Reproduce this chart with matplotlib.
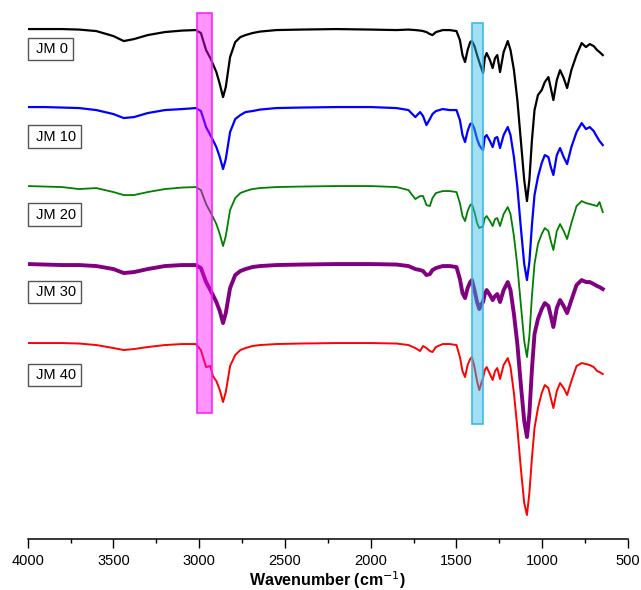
import matplotlib
matplotlib.use("Agg")
import matplotlib.pyplot as plt
from matplotlib.patches import Rectangle
from matplotlib.ticker import MultipleLocator
import numpy as np

plt.rcParams['font.family'] = ['Liberation Sans', 'DejaVu Sans']

# wavenumbers (cm-1), shared by all spectra
wn = [4000, 3900, 3800, 3700, 3600, 3500, 3440, 3380, 3300, 3200,
      3100, 3020, 2990, 2960, 2935, 2920, 2900, 2880, 2861, 2845,
      2820, 2790, 2760, 2730, 2690, 2645, 2550, 2410, 2200, 2000,
      1850, 1780, 1740, 1712, 1695, 1675, 1655, 1640, 1620, 1580,
      1540, 1500, 1480, 1465, 1450, 1435, 1420, 1410, 1395, 1380,
      1367, 1355, 1345, 1335, 1324, 1305, 1289, 1275, 1262, 1246,
      1225, 1201, 1185, 1165, 1145, 1125, 1105, 1089, 1075, 1060,
      1045, 1025, 1003, 985, 964, 950, 935, 915, 896, 875,
      855, 830, 800, 770, 745, 723, 700, 680, 666, 647]

# absorption depth below each trace's baseline (a.u.)
jm0 = [0, 0, 0, 0.5, 2, 7, 12, 10, 6, 3,
       1.5, 1, 4, 21, 29, 35, 43, 55, 68, 58,
       28, 13, 8, 6, 4, 2.5, 1, 0.5, 0, 0.5,
       1, 0.5, 1, 1.5, 2, 3, 5, 6, 3, 1,
       1, 2, 11, 26, 33, 21, 13, 12, 17, 26,
       33, 39, 44, 29, 24, 31, 39, 29, 26, 43,
       23, 12, 21, 41, 71, 111, 151, 172, 151, 111,
       81, 66, 61, 53, 48, 59, 71, 51, 41, 49,
       59, 41, 26, 14, 18, 15, 17, 21, 23, 26]
jm10 = [0, 0, 0.5, 1, 3, 7, 11, 10, 6, 3,
        2, 1, 4, 20, 28, 33, 40, 50, 62, 52,
        25, 12, 8, 5, 4, 2.5, 1, 0.5, 0, 0,
        1, 3, 10, 5, 9, 18, 12, 7, 4, 2,
        3, 3, 13, 28, 35, 24, 17, 16, 22, 32,
        38, 41, 43, 30, 28, 34, 40, 31, 30, 41,
        28, 20, 28, 50, 80, 120, 157, 173, 155, 118,
        88, 70, 56, 48, 50, 60, 68, 48, 41, 50,
        57, 40, 25, 16, 22, 20, 24, 30, 34, 38]
jm20 = [0, 0.5, 1, 3, 2, 6, 9, 9, 6, 3,
        1.5, 1, 4, 18, 26, 31, 38, 48, 60, 50,
        24, 12, 7, 5, 3, 2, 1, 0.5, 0, 0,
        1, 4, 13, 10, 10, 19, 20, 12, 7, 5,
        5, 6, 17, 30, 35, 25, 19, 18, 26, 37,
        42, 41, 40, 32, 30, 35, 40, 33, 32, 40,
        28, 21, 28, 50, 80, 118, 155, 171, 150, 110,
        78, 58, 48, 42, 45, 55, 64, 45, 38, 45,
        53, 37, 20, 15, 17, 18, 19, 20, 16, 26]
jm30 = [0, 0.5, 1, 1, 2, 5, 9, 8, 5, 2,
        1, 1, 4, 18, 26, 31, 38, 47, 59, 49,
        24, 11, 7, 5, 3, 2, 1, 0.5, 0, 0,
        0.5, 2, 5, 6, 7, 11, 10, 6, 4, 2,
        2, 3, 15, 29, 34, 24, 18, 16, 26, 38,
        45, 40, 38, 30, 26, 31, 36, 32, 30, 38,
        26, 18, 26, 50, 80, 120, 157, 173, 150, 105,
        70, 55, 45, 39, 42, 52, 63, 44, 36, 42,
        49, 36, 21, 16, 18, 18, 20, 22, 23, 25]
jm40 = [0, 0, 0, 0.5, 2, 5, 7, 6, 4, 2,
        1, 1, 7, 24, 23, 33, 38, 47, 59, 49,
        23, 12, 7, 5, 3, 2, 1, 0.5, 0, 0,
        0.5, 2, 5, 8, 3, 5, 8, 9, 4, 1,
        1, 2, 14, 28, 34, 22, 16, 14, 24, 38,
        47, 40, 35, 27, 24, 31, 37, 28, 25, 36,
        22, 15, 24, 50, 85, 125, 160, 172, 150, 115,
        85, 65, 50, 42, 45, 55, 65, 48, 40, 45,
        52, 38, 23, 20, 21, 22, 24, 28, 29, 31]

names = ['JM 0', 'JM 10', 'JM 20', 'JM 30', 'JM 40']
baselines = [511, 433, 354, 276, 197]
label_y = [491, 403.5, 325.5, 248, 165]
colors = ['black', '#0000ff', '#008000', '#800080', '#ff0000']
widths = [1.6, 1.6, 1.3, 2.8, 1.4]

fig = plt.figure(figsize=(6.41, 5.90), dpi=100)
ax = fig.add_axes([0.0432, 0.0864, 0.9365, 0.905])

for d, base, c, lw in zip([jm0, jm10, jm20, jm30, jm40], baselines, colors, widths):
    ax.plot(wn, base - np.array(d), color=c, lw=lw, zorder=2)

# highlighted bands
ax.add_patch(Rectangle((2925, 127), 85, 400, facecolor=(1, 0.0, 1, 0.42),
                       edgecolor=(1, 0.1, 1, 0.95), lw=1.2, zorder=3))
ax.add_patch(Rectangle((1343, 116), 66, 401, facecolor=(0.2, 0.72, 0.9, 0.45),
                       edgecolor=(0.2, 0.72, 0.9, 0.95), lw=1.2, zorder=3))

for name, y in zip(names, label_y):
    ax.text(3972, y, ' ' + name, fontsize=10.5, va='center', ha='left', zorder=4,
            bbox=dict(boxstyle='square,pad=0.3', facecolor='white',
                      edgecolor='#555555', lw=1))

ax.set_xlim(4000, 500)
ax.set_ylim(1, 535)
ax.xaxis.set_major_locator(MultipleLocator(500))
ax.xaxis.set_minor_locator(MultipleLocator(250))
ax.tick_params(axis='x', which='major', length=6.5, width=1, labelsize=10.5, pad=4)
ax.tick_params(axis='x', which='minor', length=3, width=1)
ax.set_yticks([])
for s in ['left', 'right', 'top']:
    ax.spines[s].set_visible(False)
ax.spines['bottom'].set_linewidth(1.1)
ax.set_xlabel('Wavenumber (cm$^{-1}$)', fontsize=11.5, fontweight='bold', va='center')
ax.xaxis.set_label_coords(0.5, -0.077)

fig.savefig('out.png', dpi=100)
